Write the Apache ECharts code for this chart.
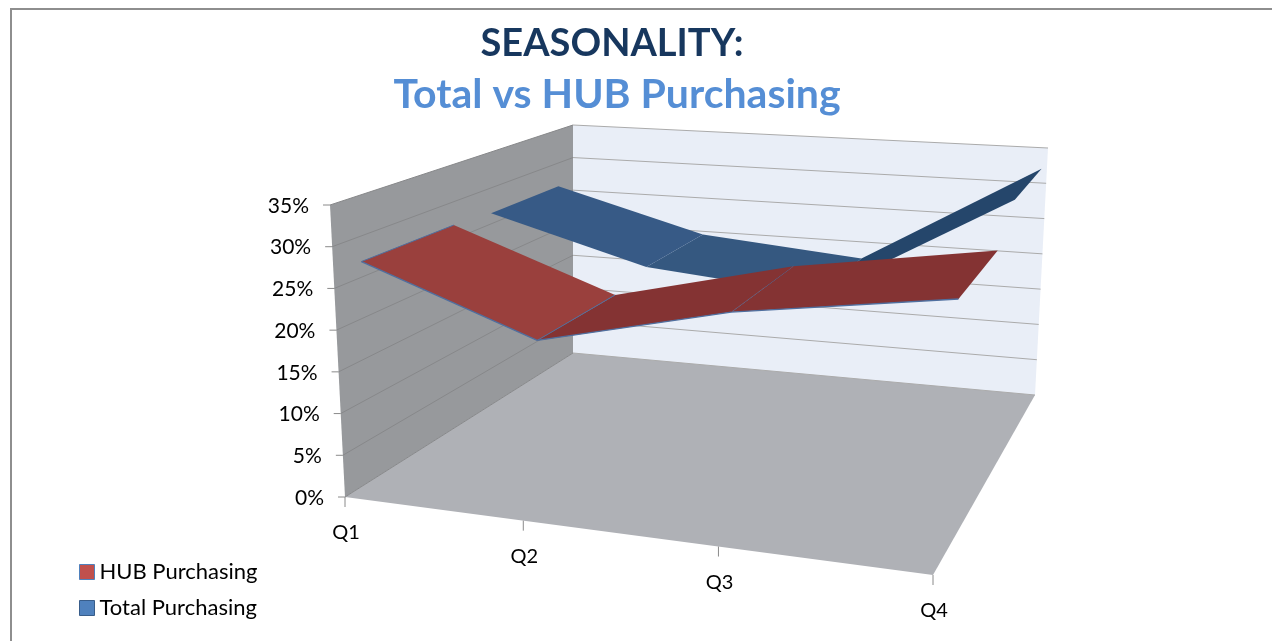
<!DOCTYPE html>
<html>
<head>
<meta charset="utf-8">
<script src="https://cdn.jsdelivr.net/npm/echarts@6/dist/echarts.min.js"></script>
<style>
html,body{margin:0;padding:0;background:#fff;}
#chart{width:1272px;height:641px;}
</style>
</head>
<body>
<div id="chart"></div>
<script>
var categories = ["Q1", "Q2", "Q3", "Q4"];
var hubPurchasing = [26.9, 19.4, 25, 28.9];
var totalPurchasing = [26.5, 20.7, 18.8, 33];
var yTicks = [0, 5, 10, 15, 20, 25, 30, 35];

var FONT = "Lato";
var GRID = { left: 322, top: 205, width: 600, height: 293 };

// corners of the box in the picture: front-left, front-right, back-right, back-left
var floorQuad = [[345, 497], [933, 575], [1035, 395], [573, 353]];
var roofQuad = [[330, 205], [949, 259], [1048, 148], [573, 125]];
var hubDepth = [0.09, 0.43];
var totalDepth = [0.59, 0.92];

function quadMap(q) {
	var x0 = q[0][0], y0 = q[0][1], x1 = q[1][0], y1 = q[1][1];
	var x2 = q[2][0], y2 = q[2][1], x3 = q[3][0], y3 = q[3][1];
	var dx1 = x1 - x2, dx2 = x3 - x2, sx = x0 - x1 + x2 - x3;
	var dy1 = y1 - y2, dy2 = y3 - y2, sy = y0 - y1 + y2 - y3;
	var den = dx1 * dy2 - dx2 * dy1;
	var g = (sx * dy2 - dx2 * sy) / den;
	var h = (dx1 * sy - sx * dy1) / den;
	var a = x1 - x0 + g * x1, b = x3 - x0 + h * x3;
	var d = y1 - y0 + g * y1, e = y3 - y0 + h * y3;
	return function(u, w) {
		var k = g * u + h * w + 1;
		return [(a * u + b * w + x0) / k, (d * u + e * w + y0) / k];
	};
}
var floorAt = quadMap(floorQuad);
var roofAt = quadMap(roofQuad);

// u across, w into the page, t up, all 0..1
function project(u, w, t) {
	var f = floorAt(u, w), r = roofAt(u, w);
	return [f[0] + (r[0] - f[0]) * t, f[1] + (r[1] - f[1]) * t];
}
// go through the axes of the hidden grid to get the fractions
function toU(api, i) {
	return (api.coord([categories[i], 0])[0] - GRID.left) / GRID.width;
}
function toT(api, v) {
	return (GRID.top + GRID.height - api.coord([categories[0], v])[1]) / GRID.height;
}

function poly(points, fill) {
	return { type: "polygon", shape: { points: points }, style: { fill: fill }, silent: true };
}
function edge(a, b, color, width) {
	return {
		type: "line",
		shape: { x1: a[0], y1: a[1], x2: b[0], y2: b[1] },
		style: { stroke: color, lineWidth: width },
		silent: true
	};
}
function label(x, y, text, align, size) {
	return {
		type: "text", silent: true,
		style: { x: x, y: y, text: text, fill: "#000", font: size + "px " + FONT, textAlign: align, textVerticalAlign: "middle" }
	};
}

function renderBox(params, api) {
	var kids = [];
	kids.push(poly([project(0, 0, 0), project(0, 1, 0), project(0, 1, 1), project(0, 0, 1)], "#97999C"));
	kids.push(poly([project(0, 1, 0), project(1, 1, 0), project(1, 1, 1), project(0, 1, 1)], "#E9EEF7"));
	kids.push(poly([project(0, 0, 0), project(1, 0, 0), project(1, 1, 0), project(0, 1, 0)], "#AFB1B6"));
	for (var n = 0; n < yTicks.length; n++) {
		var t = toT(api, yTicks[n]);
		kids.push(edge(project(0, 0, t), project(0, 1, t), "#87888A", 1));
		kids.push(edge(project(0, 1, t), project(1, 1, t), "#ABABAB", 1));
		var p = project(0, 0, t);
		kids.push(edge([p[0] - 7, p[1]], p, "#8A8A8A", 1));
		// the tick labels follow the slanted edge, so they are not on the straight axis
		kids.push(label(p[0] - 21, p[1] + 1, yTicks[n] + "%", "right", 21));
	}
	for (var i = 0; i < categories.length; i++) {
		var q = project(toU(api, i), 0, 0);
		kids.push(edge(q, [q[0], q[1] + 10], "#8A8A8A", 1));
		kids.push(label(q[0] + 1, q[1] + 36, categories[i], "center", 20));
	}
	return { type: "group", children: kids };
}

function ribbon(values, depth, fills, lineColor) {
	return function(params, api) {
		var i = api.value(0);
		var u0 = toU(api, i), u1 = toU(api, i + 1);
		var t0 = toT(api, values[i]), t1 = toT(api, values[i + 1]);
		var a = project(u0, depth[0], t0), b = project(u1, depth[0], t1);
		var c = project(u1, depth[1], t1), d = project(u0, depth[1], t0);
		var kids = [poly([a, b, c, d], fills[i])];
		if (lineColor) {
			kids.push(edge(a, b, lineColor, 1.4));
			kids.push(edge(a, d, lineColor, 1));
		}
		return { type: "group", children: kids };
	};
}

var myChart = echarts.init(document.getElementById("chart"), null, { renderer: "canvas" });
myChart.setOption({
	animation: false,
	backgroundColor: "#fff",
	title: [
		{ text: "SEASONALITY:", left: 607, top: 20, textAlign: "center", textStyle: { fontFamily: FONT, fontSize: 38, fontWeight: "bold", color: "#17375E" } },
		{ text: "Total vs HUB Purchasing", left: 612, top: 69, textAlign: "center", textStyle: { fontFamily: FONT, fontSize: 41, fontWeight: "bold", color: "#558ED5" } }
	],
	legend: {
		orient: "vertical", left: 79, top: 561, padding: 0, itemWidth: 15, itemHeight: 15, itemGap: 14,
		textStyle: { fontFamily: FONT, fontSize: 22, color: "#000" },
		data: [
			{ name: "HUB Purchasing", icon: "rect", itemStyle: { color: "#C0504D", borderColor: "#4F81BD", borderWidth: 1 } },
			{ name: "Total Purchasing", icon: "rect", itemStyle: { color: "#4F81BD", borderColor: "#385D8A", borderWidth: 1 } }
		]
	},
	graphic: [{
		type: "rect", silent: true, z: -1,
		shape: { x: 11, y: 9, width: 1300, height: 700 },
		style: { fill: "#fff", stroke: "#8E8E8E", lineWidth: 2 }
	}],
	grid: GRID,
	xAxis: { type: "category", data: categories, boundaryGap: false, show: false },
	yAxis: { type: "value", min: 0, max: 35, interval: 5, show: false },
	series: [
		{ type: "custom", name: "box", renderItem: renderBox, data: [[0]], z: 1 },
		{
			type: "custom", name: "Total Purchasing", z: 2, itemStyle: { color: "#4F81BD" },
			renderItem: ribbon(totalPurchasing, totalDepth, ["#375A86", "#355880", "#25466B"], null),
			data: [[2], [1], [0]]
		},
		{
			type: "custom", name: "HUB Purchasing", z: 3, itemStyle: { color: "#C0504D" },
			renderItem: ribbon(hubPurchasing, hubDepth, ["#9A403D", "#843333", "#843333"], "#4F6F9F"),
			data: [[0], [2], [1]]
		}
	]
});
</script>
</body>
</html>
